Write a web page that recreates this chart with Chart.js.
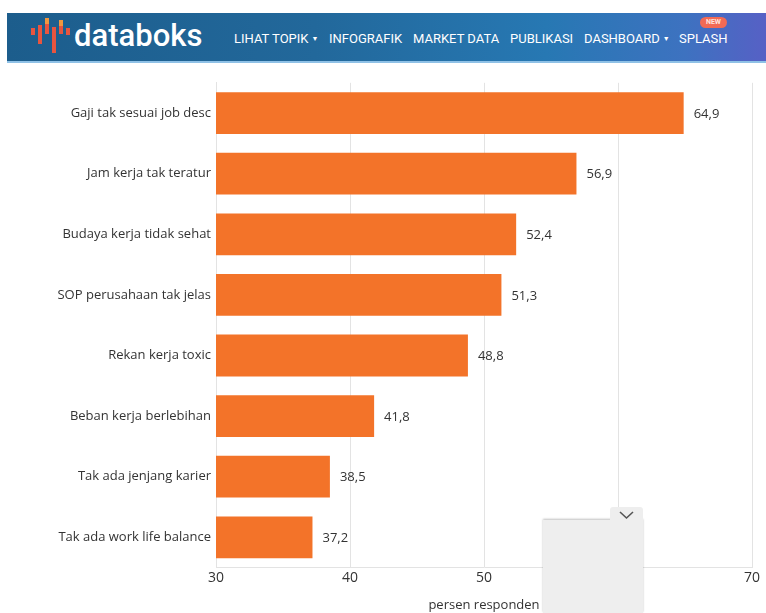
<!DOCTYPE html>
<html lang="id">
<head>
<meta charset="utf-8">
<title>databoks</title>
<script src="https://cdn.jsdelivr.net/npm/chart.js@4.4.1/dist/chart.umd.min.js"></script>
<style>
  html, body { margin: 0; padding: 0; background: #fff; }
  body { width: 766px; height: 613px; position: relative; overflow: hidden; font-family: "Open Sans", sans-serif; }
  .topbar {
    position: absolute; left: 7px; top: 13px; width: 770px; height: 50px;
    background: linear-gradient(90deg, #1c5d8c 0%, #22689b 40%, #2778b3 70%, #3d72c0 88%, #5a5ec6 100%);
    border-bottom: 2px solid #8fc1e6; box-sizing: border-box;
  }
  .logo { position: absolute; left: 24px; top: 5px; width: 40px; height: 36px; }
  .logo i { position: absolute; width: 4px; }
  .brand {
    position: absolute; left: 67px; top: 4px; color: #fff;
    font-family: Roboto, sans-serif; font-size: 31px; font-weight: 500;
  }
  .menu { position: absolute; left: 227px; top: 18px; color: #fff; font-family: Roboto, sans-serif; font-size: 13px; white-space: nowrap; }
  .menu span { position: absolute; top: 0; }
  .menu b { font-size: 7px; font-weight: normal; margin-left: 3px; vertical-align: 2px; }
  .badge {
    position: absolute; left: 693px; top: 4px; width: 27px; height: 11px; border-radius: 6px;
    background: #f26a55; color: #ffe3de; font-family: Roboto, sans-serif; font-size: 7px; font-weight: 700; line-height: 11px; text-align: center;
  }
  #wrap { position: absolute; left: 0; top: 70px; width: 766px; height: 543px; }
  .panel { position: absolute; left: 543px; top: 520px; width: 100px; height: 93px; background: #eeeeee; box-shadow: 0 -1px 2px rgba(0,0,0,0.25); }
  .tab { position: absolute; left: 610px; top: 507px; width: 33px; height: 20px; background: #eeeeee; border-radius: 3px 3px 0 0; }
  .tab svg { position: absolute; left: 9px; top: 4px; }
</style>
</head>
<body>
<div class="topbar">
  <div class="logo">
    <i style="left:0;top:10px;height:7px;background:#e8553f"></i>
    <i style="left:7px;top:7px;height:19px;background:#e8553f"></i>
    <i style="left:14px;top:0;height:6px;background:#f0973f"></i>
    <i style="left:14px;top:6px;height:10px;background:#e8553f"></i>
    <i style="left:21px;top:9px;height:26px;background:#e8553f"></i>
    <i style="left:28px;top:2px;height:6px;background:#f0973f"></i>
    <i style="left:28px;top:8px;height:8px;background:#e8553f"></i>
    <i style="left:35px;top:10px;height:7px;background:#e8553f"></i>
  </div>
  <div class="brand">databoks</div>
  <div class="menu">
    <span style="left:0">LIHAT TOPIK<b>▼</b></span>
    <span style="left:95px">INFOGRAFIK</span>
    <span style="left:179px">MARKET DATA</span>
    <span style="left:276px">PUBLIKASI</span>
    <span style="left:350px">DASHBOARD<b>▼</b></span>
    <span style="left:445px">SPLASH</span>
  </div>
  <div class="badge">NEW</div>
</div>

<div id="wrap"><canvas id="myChart"></canvas></div>

<div class="panel"></div>
<div class="tab">
  <svg width="15" height="9" viewBox="0 0 15 9"><path d="M1 1 L7.5 7 L14 1" fill="none" stroke="#555" stroke-width="1.6"/></svg>
</div>

<script>
/* globals Chart:false */
(() => {
  'use strict'

  // alasan responden (persen)
  const alasan = [
    'Gaji tak sesuai job desc',
    'Jam kerja tak teratur',
    'Budaya kerja tidak sehat',
    'SOP perusahaan tak jelas',
    'Rekan kerja toxic',
    'Beban kerja berlebihan',
    'Tak ada jenjang karier',
    'Tak ada work life balance'
  ]
  const persen = [64.9, 56.9, 52.4, 51.3, 48.8, 41.8, 38.5, 37.2]
  const sumbuX = [30, 40, 50, 60, 70]

  const fontUtama = '"Open Sans", "Noto Sans", sans-serif'

  // angka di ujung batang, pakai koma desimal
  const labelNilai = {
    id: 'labelNilai',
    afterDatasetsDraw (chart) {
      const c = chart.ctx
      const meta = chart.getDatasetMeta(0)
      c.save()
      c.font = '13px ' + fontUtama
      c.fillStyle = '#333'
      c.textBaseline = 'middle'
      meta.data.forEach((bar, i) => {
        c.fillText(persen[i].toFixed(1).replace('.', ','), bar.x + 10, bar.y + 1)
      })
      c.restore()
    }
  }

  const ctx = document.getElementById('myChart')
  // eslint-disable-next-line no-unused-vars
  const myChart = new Chart(ctx, {
    type: 'bar',
    data: {
      labels: alasan,
      datasets: [{
        data: persen,
        backgroundColor: '#f37329',
        borderWidth: 0,
        categoryPercentage: 0.69,
        barPercentage: 1
      }]
    },
    options: {
      indexAxis: 'y',
      responsive: true,
      maintainAspectRatio: false,
      animation: false,
      layout: { padding: { top: 12, right: 14, bottom: 0, left: 0 } },
      plugins: {
        legend: { display: false },
        tooltip: { enabled: false }
      },
      scales: {
        x: {
          min: sumbuX[0],
          max: sumbuX[sumbuX.length - 1],
          afterBuildTicks (axis) {
            axis.ticks = sumbuX.map(v => ({ value: v }))
          },
          ticks: {
            color: '#333',
            padding: 2,
            font: { family: fontUtama, size: 14 }
          },
          grid: { color: '#e3e3e3', drawTicks: false },
          border: { color: '#e3e3e3' },
          title: {
            display: true,
            text: 'persen responden',
            color: '#333',
            padding: { top: 9, bottom: 0 },
            font: { family: fontUtama, size: 13 }
          }
        },
        y: {
          afterFit (axis) { axis.width = 216 },
          ticks: {
            color: '#333',
            padding: 5,
            font: { family: fontUtama, size: 13 }
          },
          grid: { display: false, drawTicks: false },
          border: { color: '#e3e3e3' }
        }
      }
    },
    plugins: [labelNilai]
  })
})()
</script>
</body>
</html>
